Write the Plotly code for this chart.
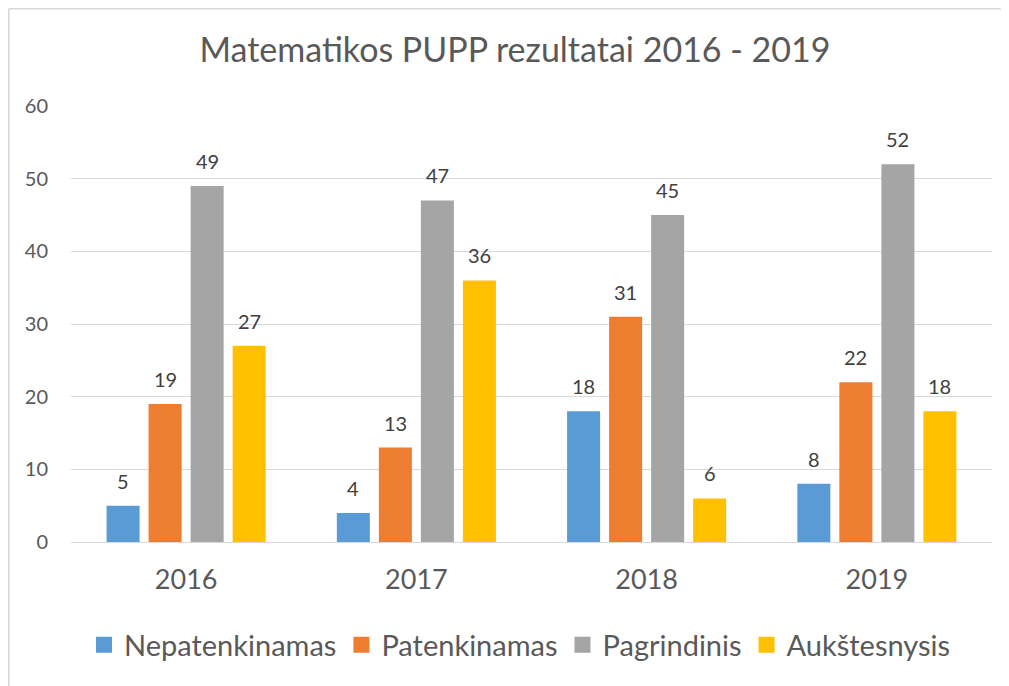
import plotly.graph_objects as go

years = ["2016", "2017", "2018", "2019"]
series_names = ["Nepatenkinamas", "Patenkinamas", "Pagrindinis", "Aukštesnysis"]
nepatenkinamas = [5, 4, 18, 8]
patenkinamas = [19, 13, 31, 22]
pagrindinis = [49, 47, 45, 52]
aukstesnysis = [27, 36, 6, 18]
y_ticks = [0, 10, 20, 30, 40, 50, 60]

series_values = [nepatenkinamas, patenkinamas, pagrindinis, aukstesnysis]
colors = ["#5B9BD5", "#ED7D31", "#A5A5A5", "#FFC000"]

FONT = "Lato"
BARGAP = 0.27
GROUPGAP = 0.214
W, H = 1001, 678
ML, MR, MT, MB = 63, 17, 98, 144
PW, PH = W - ML - MR, H - MT - MB

fig = go.Figure()
for name, vals, col in zip(series_names, series_values, colors):
    fig.add_trace(go.Bar(name=name, x=years, y=vals, showlegend=False, legendgroup=name,
                         marker=dict(color=col, line=dict(width=0))))
# legend entries with larger square swatches
for name, col in zip(series_names, colors):
    fig.add_trace(go.Scatter(name=name, x=[None], y=[None], mode="markers", legendgroup=name,
                             marker=dict(symbol="square", size=18, color=col), showlegend=True,
                             hoverinfo="skip"))

# data labels
n = len(series_names)
for k, vals in enumerate(series_values):
    for i, v in enumerate(vals):
        fig.add_annotation(
            x=i + (k - (n - 1) / 2) * (1 - BARGAP) / n, y=v, xref="x", yref="y",
            text=str(v), showarrow=False, yanchor="bottom", yshift=11,
            font=dict(family=FONT, size=20, color="#404040"),
        )

# chart border (left and top edges)
fig.add_shape(type="line", xref="paper", yref="paper",
              x0=(0.8 - ML) / PW, x1=(0.8 - ML) / PW, y0=(PH + MT - 0.8) / PH, y1=-(MB + 5) / PH,
              line=dict(color="#D9D9D9", width=1.6))
fig.add_shape(type="line", xref="paper", yref="paper",
              x0=(0.8 - ML) / PW, x1=(W + 5 - ML) / PW, y0=(PH + MT - 0.8) / PH, y1=(PH + MT - 0.8) / PH,
              line=dict(color="#D9D9D9", width=1.6))

fig.update_layout(
    width=W, height=H,
    margin=dict(l=ML, r=MR, t=MT, b=MB),
    paper_bgcolor="white", plot_bgcolor="white",
    barmode="group", bargap=BARGAP, bargroupgap=GROUPGAP,
    title=dict(text="Matematikos PUPP rezultatai 2016 - 2019", x=0.5065, xanchor="center",
               y=1 - 42 / H, yanchor="middle",
               font=dict(family=FONT, size=34, color="#595959")),
    font=dict(family=FONT, color="#595959"),
    xaxis=dict(type="category", showgrid=False, showline=False, ticks="",
               tickfont=dict(family=FONT, size=27, color="#595959"), ticklabelstandoff=19),
    yaxis=dict(range=[0, 60], tickvals=y_ticks, showgrid=True, gridcolor="#D9D9D9", gridwidth=1,
               zeroline=True, zerolinecolor="#D9D9D9", zerolinewidth=1, showline=False, ticks="",
               tickfont=dict(family=FONT, size=20, color="#595959"), ticklabelstandoff=22),
    legend=dict(orientation="h", x=0.4875, xanchor="center", y=-0.236, yanchor="middle",
                font=dict(family=FONT, size=29, color="#595959"), itemwidth=30,
                itemsizing="trace", traceorder="normal"),
    showlegend=True,
)

fig.write_html("out.html")
